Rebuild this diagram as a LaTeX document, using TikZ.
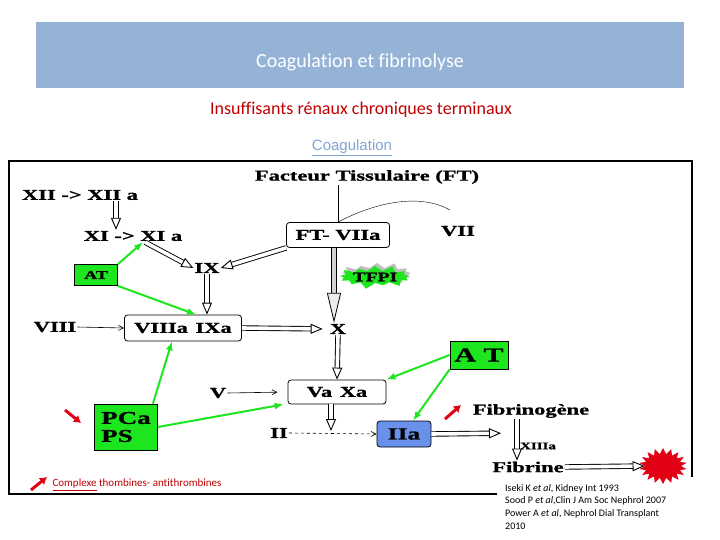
\documentclass[tikz,border=0pt]{standalone}
\usepackage{fontspec}
\setmainfont{Liberation Serif}
\newfontfamily\calfont[Ligatures=NoCommon]{Carlito}
\newfontfamily\arialfont{Liberation Sans}
\newfontfamily\diafont[FakeStretch=1.5, FakeBold=1.2]{Liberation Serif}
\usetikzlibrary{arrows.meta,shapes.symbols,shadows,positioning}

\definecolor{bannerblue}{RGB}{149,179,215}
\definecolor{darkred}{RGB}{192,0,0}
\definecolor{linkblue}{RGB}{130,165,210}
\definecolor{brightgreen}{RGB}{30,230,30}
\definecolor{factorblue}{RGB}{105,145,235}
\definecolor{clotred}{RGB}{225,0,20}

\begin{document}
\begin{tikzpicture}[x=1pt,y=-1pt,
    factor/.style ={font=\diafont\bfseries\fontsize{15}{15}\selectfont, inner sep=1pt},
    complexbox/.style ={factor, draw, thick, rounded corners=3pt, minimum height=25pt},
    inhibitor/.style ={factor, draw, thick, fill=brightgreen, inner sep=2pt},
    hollow/.style ={double=white, double distance=3.6pt, line width=0.9pt,
        -{Triangle[open, length=12pt, width=10pt]}},
    grayhollow/.style ={double=gray!35, double distance=4.5pt, line width=0.8pt,
        -{Triangle[open, fill=gray!15, length=30pt, width=14pt]}},
    activates/.style ={line width=0.6pt, -{Straight Barb[length=5pt, width=5pt]}},
    inhibits/.style ={brightgreen, line width=2pt, -{Latex[length=9pt, width=7pt]}},
    redmark/.style ={clotred, line width=3pt, -{Latex[length=7pt, width=9pt]}}]
   \useasboundingbox (0,0) rectangle (720,540);
   % header
   \fill[bannerblue] (36,22) rectangle (684,88);
   \node[font=\calfont\fontsize{20}{20}\selectfont, text=white] (title) at (360,62) {Coagulation et fibrinolyse};
   \node[font=\calfont\fontsize{18}{18}\selectfont, text=darkred] (subtitle) at (361,110) {Insuffisants rénaux chroniques terminaux};
   \node[font=\arialfont\fontsize{15}{15}\selectfont, text=linkblue] (link) at (352,148) {\underline{Coagulation}};
   \draw[line width=1.5pt] (497,494) -- (9,494) -- (9,161) -- (692,161) -- (692,477);
   % cascade
   \node[factor] (ft) at (367,177) {Facteur Tissulaire (FT)};
   \node[factor] (xii) at (80,195) {XII -> XII a};
   \node[factor] (xi) at (133,236) {XI -> XI a};
   \node[factor] (ix) at (207,268) {IX};
   \node[complexbox, minimum width=103pt] (ftvii) at (338,235) {FT- VIIa};
   \node[factor] (vii) at (458,231) {VII};
   \node[inhibitor, minimum width=43pt, minimum height=21pt, font=\diafont\bfseries\fontsize{12}{12}\selectfont] (atl) at (96,275) {AT};
   \node[starburst, fill=brightgreen, starburst points=13, starburst point height=7pt,
         minimum width=70pt, minimum height=26pt, inner sep=0pt,
         drop shadow={fill=gray, shadow xshift=2pt, shadow yshift=3pt},
         font=\diafont\bfseries\fontsize{13}{13}\selectfont] (tfpi) at (375,277) {TFPI};
   \node[factor] (viii) at (55,327) {VIII};
   \node[complexbox, minimum width=117pt, minimum height=26pt] (viiiaixa) at (183,328) {VIIIa\enspace IXa};
   \node[factor] (x) at (338,329) {X};
   \node[inhibitor, minimum width=58pt, minimum height=28pt, font=\diafont\bfseries\fontsize{20}{20}\selectfont] (atr) at (479,355) {A T};
   \node[factor] (v) at (218,393) {V};
   \node[complexbox, minimum width=98pt, minimum height=24pt] (vaxa) at (337,392) {Va\enspace Xa};
   \node[inhibitor, minimum width=63pt, minimum height=46pt, align=left, font=\diafont\bfseries\fontsize{18}{18}\selectfont] (pcaps) at (126,427) {PCa\\PS};
   \node[factor] (ii) at (279,433) {II};
   \node[complexbox, fill=factorblue, minimum width=54pt, minimum height=26pt, font=\diafont\bfseries\fontsize{17}{17}\selectfont] (iia) at (404,434) {IIa};
   \node[factor] (fibrinogene) at (531,411) {Fibrinogène};
   \node[factor, font=\diafont\bfseries\fontsize{10}{10}\selectfont] (xiiia) at (538,446) {XIIIa};
   \node[factor] (fibrine) at (528,467) {Fibrine};
   \node[starburst, fill=clotred, random starburst=0, starburst points=18, starburst point height=6pt,
         minimum width=48pt, minimum height=36pt, inner sep=0pt] (clot) at (663,466) {};
   % links
   \draw (ftvii.north) -- (ftvii.north |- ft.south);
   \coordinate (viiend) at (450,210);
   \draw (ftvii.north) .. controls (372,204) and (418,192) .. (viiend);
   \draw[hollow] ([xshift=36pt]xii.south) -- ([xshift=-17pt]xi.north);
   \draw[hollow] ([xshift=12pt]xi.south) -- (ix.west);
   \draw[hollow] (ftvii.south west) -- (ix.east);
   \draw[hollow] (ix.south) -- (ix |- viiiaixa.north);
   \draw[hollow, shorten >=6pt] (viiiaixa.east) -- (x.west);
   \draw[grayhollow] ([xshift=-4pt]ftvii.south) -- ([xshift=-4pt]x.north);
   \draw[hollow] (x.south) -- (vaxa.north);
   \coordinate (vaxafoot) at ([xshift=-6pt]vaxa.south);
   \draw[hollow] (vaxafoot) -- ([yshift=2pt]vaxafoot |- ii.center);
   \draw[activates] (viii.east) -- (viiiaixa.west);
   \draw[activates, shorten >=10pt] (v.east) -- (vaxa.west);
   \draw[activates, dashed] (ii.east) -- (iia.west);
   \coordinate (fibrinmid) at (517,433);
   \draw[hollow, shorten >=16pt] (iia.east) -- (fibrinmid);
   \draw[hollow] ([xshift=-14pt]fibrinogene.south) -- ([xshift=-11pt]fibrine.north);
   \draw[hollow] (fibrine.east) -- (clot.west);
   % inhibitors
   \draw[inhibits] (atl.north east) -- ([xshift=10pt]xi.south);
   \draw[inhibits] (atl.south east) -- ([xshift=13pt]viiiaixa.north);
   \draw[inhibits] ([xshift=-5pt]pcaps.north east) -- ([xshift=-11pt]viiiaixa.south);
   \draw[inhibits] (pcaps.east) -- ([xshift=-4pt]vaxa.south west);
   \draw[inhibits] (atr.west) -- (vaxa.north east);
   \draw[inhibits] (atr.south west) -- ([xshift=9pt]iia.north);
   % increased complexes
   \coordinate (pcmarka) at (65,410);
   \coordinate (pcmarkb) at (81,423);
   \draw[redmark] (pcmarka) -- (pcmarkb);
   \coordinate (fgmarka) at (445,419);
   \coordinate (fgmarkb) at (461,405);
   \draw[redmark] (fgmarka) -- (fgmarkb);
   \node[anchor=west, text=darkred, font=\calfont\fontsize{11}{11}\selectfont] (legend) at (49,485) {\underline{Complexe} thombines- antithrombines};
   \coordinate (legmarka) at (31,490);
   \coordinate (legmarkb) at (47,477);
   \draw[redmark] (legmarka) -- (legmarkb);
   \node[anchor=north west, align=left, inner sep=0pt, font=\calfont\fontsize{10}{12.7}\selectfont] (refs) at (505,484)
     {Iseki K \textit{et al}, Kidney Int 1993\\Sood P \textit{et al},Clin J Am Soc Nephrol 2007\\Power A \textit{et al}, Nephrol Dial Transplant\\2010};
 \end{tikzpicture}
\end{document}
